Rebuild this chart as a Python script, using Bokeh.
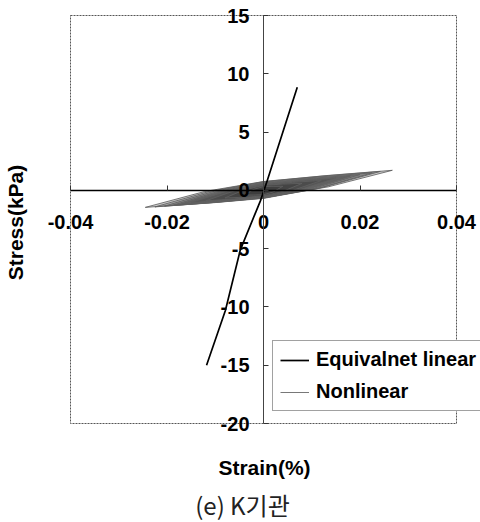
from bokeh.plotting import figure
from bokeh.models import (ColumnDataSource, FixedTicker, Label, Legend,
                          LegendItem, Range1d)
from bokeh.embed import file_html
from bokeh.resources import INLINE

# Axis ticks
strain_ticks = [-0.04, -0.02, 0.0, 0.02, 0.04]
strain_tick_labels = ["-0.04", "-0.02", "0", "0.02", "0.04"]
stress_ticks = [-20, -15, -10, -5, 0, 5, 10, 15]
stress_tick_labels = ["-20", "-15", "-10", "-5", "0", "5", "10", "15"]

# Equivalent linear response: strain (%) vs stress (kPa)
eq_strain = [-0.0118, -0.0079, -0.0048, -0.0006, 0.0008, 0.0070]
eq_stress = [-15.0, -10.3, -5.1, -0.86, 0.86, 8.85]

# Nonlinear response: hysteresis loops, largest to smallest
nl_strain = [
    [-0.0245, -0.0122, 0.0, 0.0134, 0.0267, 0.0134, 0.0, -0.0122, -0.0245],
    [-0.0225, -0.0112, 0.0, 0.0121, 0.0242, 0.0121, 0.0, -0.0112, -0.0225],
    [-0.0205, -0.0102, 0.0, 0.0112, 0.0225, 0.0112, 0.0, -0.0102, -0.0205],
    [-0.0190, -0.0095, 0.0, 0.0100, 0.0200, 0.0100, 0.0, -0.0095, -0.0190],
    [-0.0175, -0.0088, 0.0, 0.0090, 0.0180, 0.0090, 0.0, -0.0088, -0.0175],
    [-0.0150, -0.0075, 0.0, 0.0075, 0.0150, 0.0075, 0.0, -0.0075, -0.0150],
    [-0.0120, -0.0060, 0.0, 0.0060, 0.0120, 0.0060, 0.0, -0.0060, -0.0120],
    [-0.0080, -0.0040, 0.0, 0.0040, 0.0080, 0.0040, 0.0, -0.0040, -0.0080],
    [-0.0040, -0.0020, 0.0, 0.0020, 0.0040, 0.0020, 0.0, -0.0020, -0.0040],
]
nl_stress = [
    [-1.46, -0.10, 0.76, 1.28, 1.72, 0.30, -0.64, -1.09, -1.46],
    [-1.42, -0.09, 0.745, 1.22, 1.62, 0.24, -0.655, -1.07, -1.42],
    [-1.35, -0.075, 0.71, 1.135, 1.50, 0.155, -0.69, -1.055, -1.35],
    [-1.30, -0.10, 0.64, 1.03, 1.35, 0.12, -0.66, -1.015, -1.30],
    [-1.22, -0.11, 0.585, 0.93, 1.22, 0.09, -0.615, -0.95, -1.22],
    [-1.05, -0.055, 0.55, 0.825, 1.05, 0.055, -0.55, -0.825, -1.05],
    [-0.90, -0.035, 0.475, 0.685, 0.85, -0.015, -0.525, -0.735, -0.90],
    [-0.65, 0.04, 0.425, 0.54, 0.60, -0.09, -0.475, -0.59, -0.65],
    [-0.40, 0.09, 0.325, 0.35, 0.35, -0.14, -0.375, -0.40, -0.40],
]

FONT = "Liberation Sans"
W, H = 480, 522
# Plot box in canvas pixels: left, right, top, bottom
BOX_L, BOX_R, BOX_T, BOX_B = 70, 456, 15, 423

x_lo, x_hi = strain_ticks[0], strain_ticks[-1]
y_lo, y_hi = stress_ticks[0], stress_ticks[-1]
sx = (BOX_R - BOX_L) / (x_hi - x_lo)
sy = (BOX_B - BOX_T) / (y_hi - y_lo)

# The drawing area spans the whole canvas so that edge labels are not clipped
p = figure(
    output_backend="svg", toolbar_location=None,
    width=W, height=H, frame_width=W, frame_height=H,
    min_border=0,
    x_range=Range1d(x_lo - BOX_L / sx, x_hi + (W - BOX_R) / sx),
    y_range=Range1d(y_lo - (H - BOX_B) / sy, y_hi + BOX_T / sy),
    background_fill_color="white", border_fill_color="white",
)
p.grid.visible = False
p.outline_line_color = None

# Dotted box around the plot region
p.quad(left=[x_lo], right=[x_hi], bottom=[y_lo], top=[y_hi],
       fill_color=None, line_color="#555555", line_dash="2 1", line_width=1)

# Axes crossing at the origin
for ax in (p.xaxis[0], p.yaxis[0]):
    ax.fixed_location = 0
    ax.major_label_text_font = FONT
    ax.major_label_text_font_style = "bold"
    ax.major_label_text_font_size = "20px"
    ax.major_label_text_color = "black"
    ax.minor_tick_line_color = None
    ax.major_tick_in = 5
    ax.major_tick_out = 0
    ax.major_tick_line_color = "#333333"

p.xaxis.ticker = FixedTicker(ticks=strain_ticks)
p.xaxis.major_label_overrides = dict(zip(strain_ticks, strain_tick_labels))
p.xaxis.bounds = (x_lo, x_hi)
p.xaxis.axis_line_color = "black"
p.xaxis.axis_line_width = 1.6
p.xaxis.major_label_standoff = 25

p.yaxis.ticker = FixedTicker(ticks=stress_ticks)
p.yaxis.major_label_overrides = dict(zip(stress_ticks, stress_tick_labels))
p.yaxis.bounds = (y_lo, y_hi)
p.yaxis.axis_line_color = "#444444"
p.yaxis.axis_line_width = 1
p.yaxis.major_label_standoff = 14

# Nonlinear hysteresis loops
nl_src = ColumnDataSource(dict(xs=nl_strain, ys=nl_stress))
p.patches("xs", "ys", source=nl_src, fill_color="#303030", fill_alpha=0.24,
          line_color=None)
nl_lines = p.multi_line("xs", "ys", source=nl_src, line_color="#606060",
                        line_alpha=0.85, line_width=1)

# Equivalent linear response
eq_line = p.line(eq_strain, eq_stress, line_color="black", line_width=1.7)

legend = Legend(
    items=[LegendItem(label="Equivalnet linear", renderers=[eq_line]),
           LegendItem(label="Nonlinear", renderers=[nl_lines])],
    location=(272, H - 411),
    label_text_font=FONT, label_text_font_style="bold",
    label_text_font_size="20px", label_text_color="black",
    glyph_width=29, glyph_height=22, label_height=22,
    label_standoff=7, spacing=9, padding=7, margin=0,
    border_line_color="#444444", border_line_width=1,
    background_fill_color="white", background_fill_alpha=1,
)
p.add_layout(legend, "center")

def px_x(px):
    return x_lo + (px - BOX_L) / sx

def px_y(py):
    return y_hi - (py - BOX_T) / sy

# Axis titles and caption
p.add_layout(Label(x=px_x(15), y=px_y(222), text="Stress(kPa)", angle=1.5708,
                   text_align="center", text_baseline="middle",
                   text_font=FONT, text_font_style="bold",
                   text_font_size="21px", text_color="black"))
p.add_layout(Label(x=px_x(264), y=px_y(467), text="Strain(%)",
                   text_align="center", text_baseline="middle",
                   text_font=FONT, text_font_style="bold",
                   text_font_size="21px", text_color="black"))
p.add_layout(Label(x=px_x(242), y=px_y(504), text="(e) K기관",
                   text_align="center", text_baseline="middle",
                   text_font="Noto Sans CJK KR", text_font_size="24px",
                   text_color="#222222"))

open("out.html", "w").write(file_html(p, INLINE))
